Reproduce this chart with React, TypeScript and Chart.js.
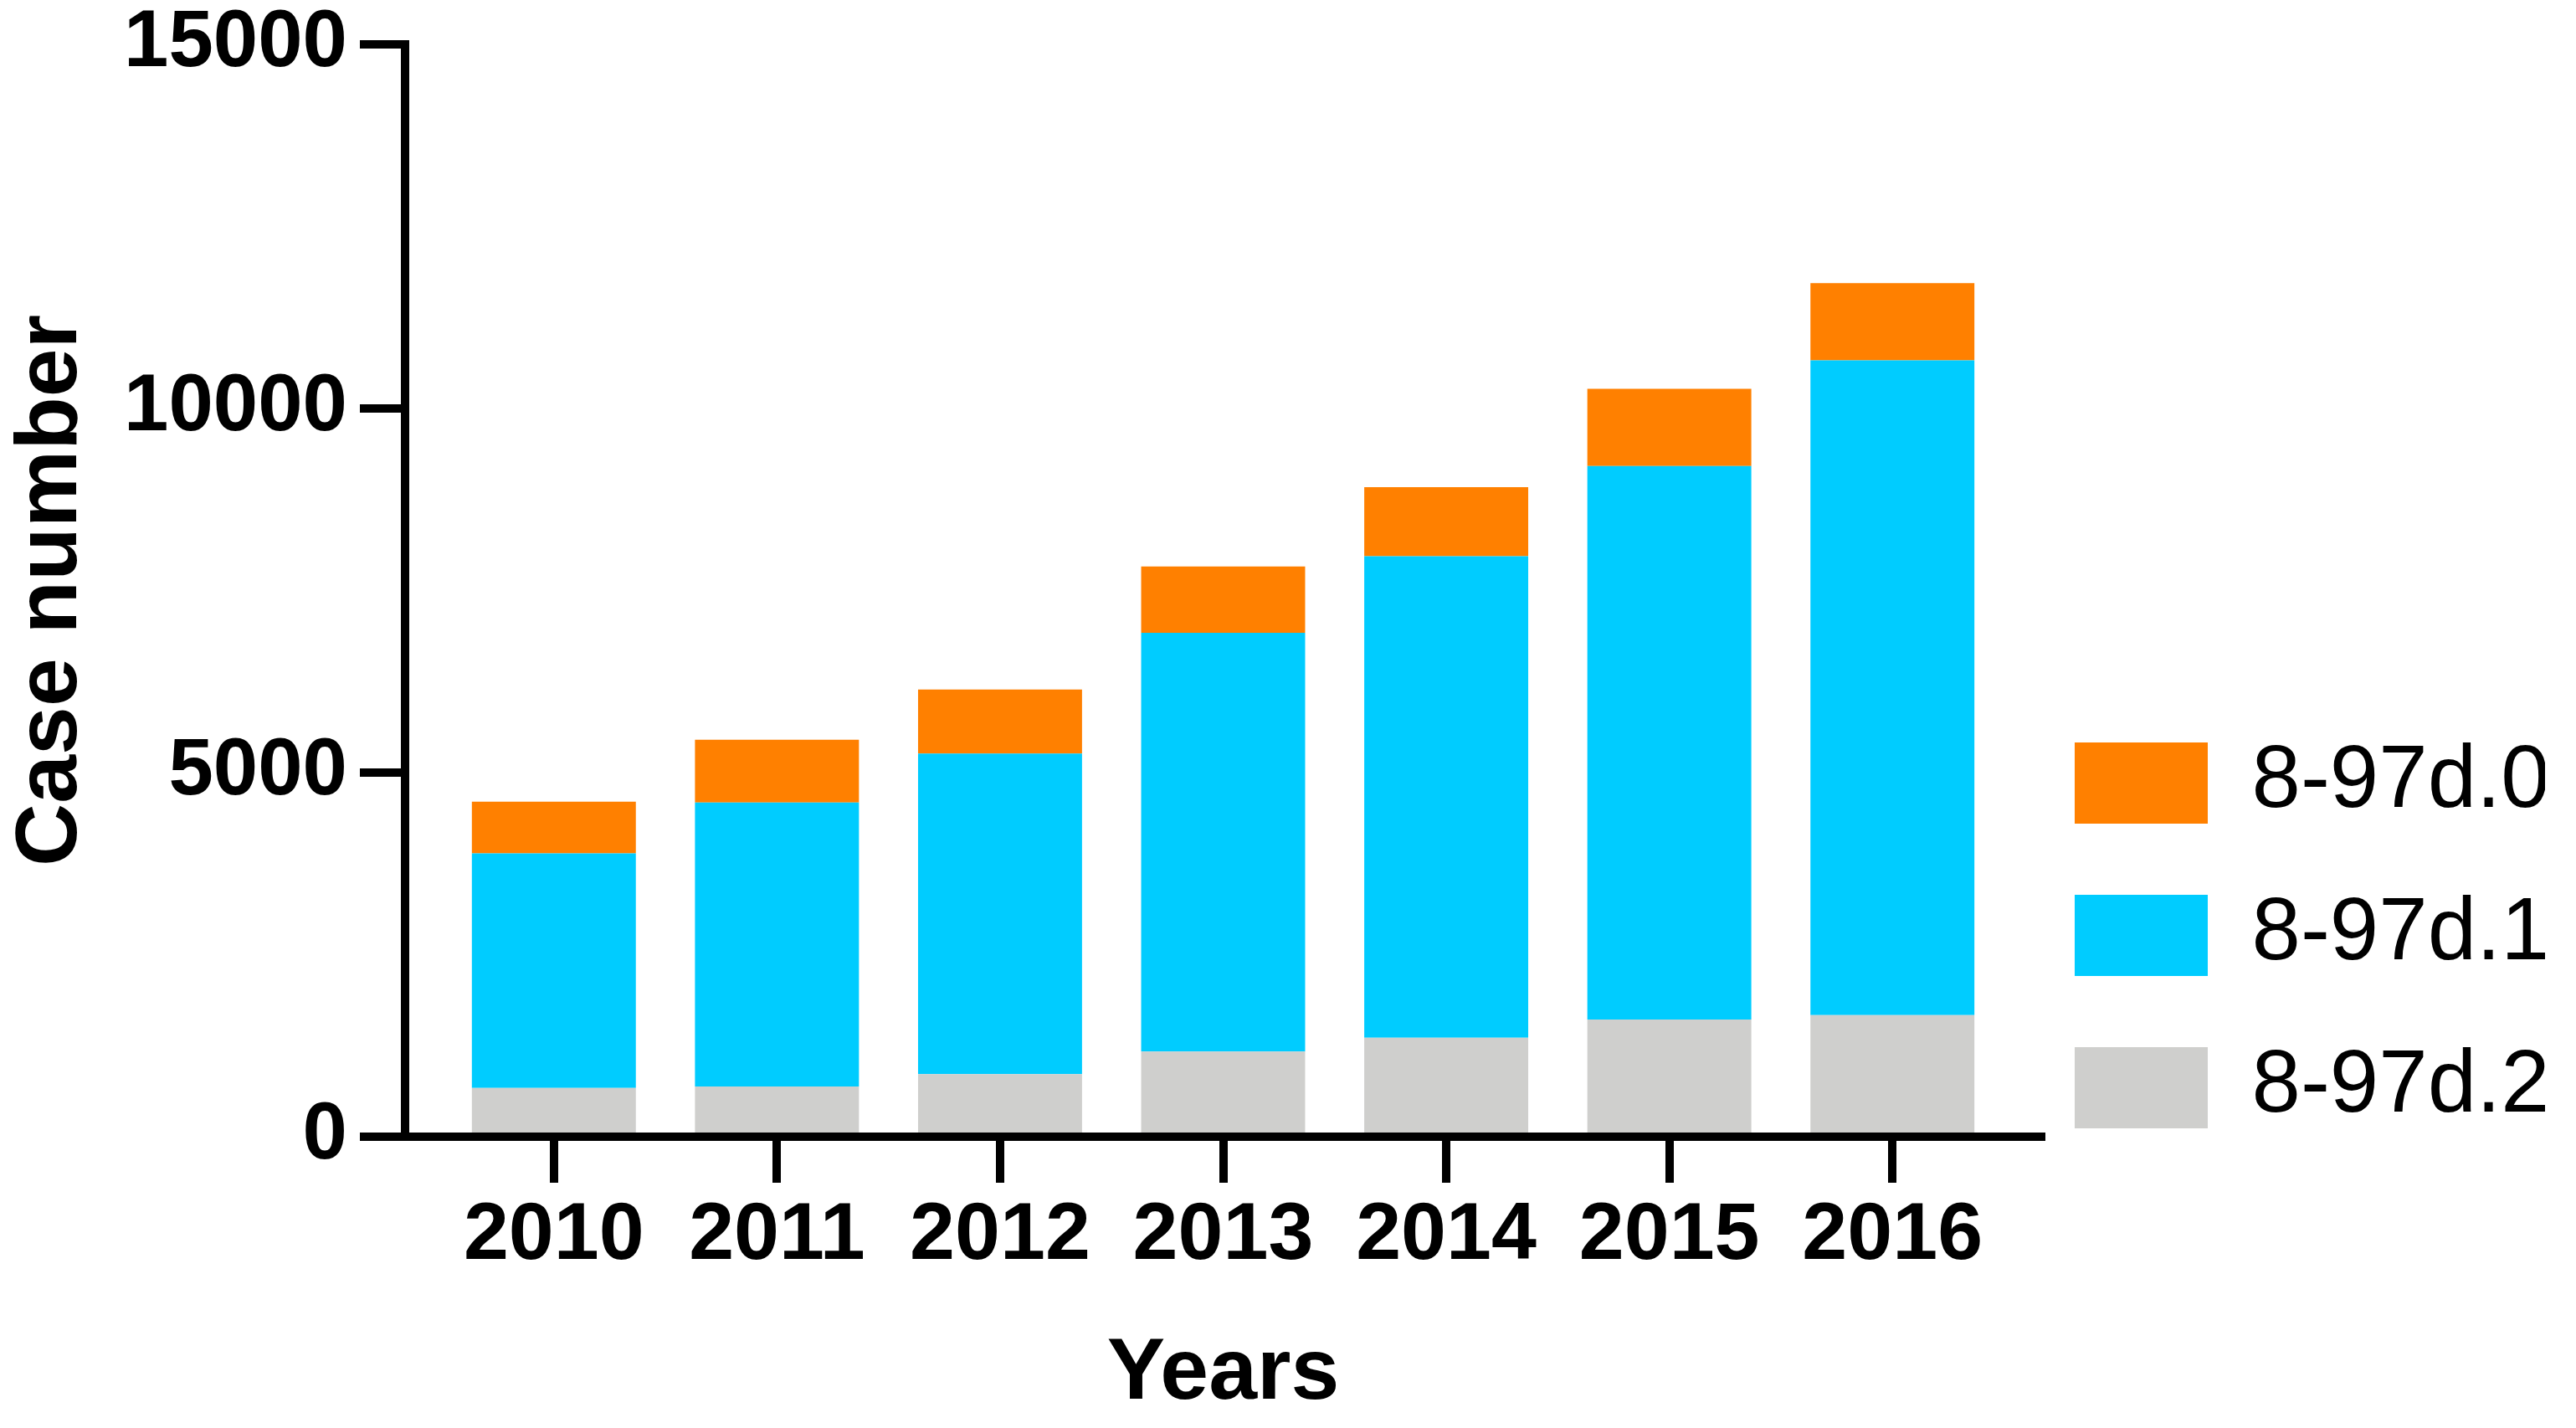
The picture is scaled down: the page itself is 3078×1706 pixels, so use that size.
import React, { useEffect, useRef } from 'react';
import { Chart, registerables } from 'chart.js';

Chart.register(...registerables);

// ---- data ----
const YEARS = [2010, 2011, 2012, 2013, 2014, 2015, 2016];
const SERIES_NAMES = ['8-97d.2', '8-97d.1', '8-97d.0'];
const SERIES_D2 = [670, 690, 860, 1170, 1360, 1610, 1670];
const SERIES_D1 = [3220, 3900, 4400, 5750, 6610, 7600, 8990];
const SERIES_D0 = [710, 860, 880, 910, 950, 1060, 1060];
const Y_TICKS = [0, 5000, 10000, 15000];
const X_TITLE = 'Years';
const Y_TITLE = 'Case number';

const COLORS = ['#CFCFCD', '#00CCFF', '#FF8000'];
const FONT = '"Liberation Sans", Arial, Helvetica, sans-serif';

const W = 3078;
const H = 1706;

const legendPlace = {
  id: 'legendPlace',
  afterLayout(chart: any) {
    const lg = chart.legend;
    if (!lg) return;
    const targetLeft = 2402;
    const targetTop = 806;
    const dx = targetLeft - lg.left;
    const dy = targetTop - lg.top;
    lg.left += dx;
    lg.right += dx;
    lg.top += dy;
    lg.bottom += dy;
  },
};

export default function App() {
  const ref = useRef<HTMLCanvasElement | null>(null);

  useEffect(() => {
    if (!ref.current) return;
    const series = [SERIES_D2, SERIES_D1, SERIES_D0];
    const chart = new Chart(ref.current, {
      type: 'bar',
      data: {
        datasets: series.map((vals, i) => ({
          label: SERIES_NAMES[i],
          data: YEARS.map((y, j) => ({ x: y, y: vals[j] })),
          backgroundColor: COLORS[i],
          borderWidth: 0,
          barPercentage: 0.735,
          categoryPercentage: 1,
        })),
      },
      options: {
        responsive: false,
        animation: false,
        devicePixelRatio: 1,
        layout: { padding: 0 },
        plugins: {
          tooltip: { enabled: false },
          legend: {
            display: true,
            position: 'right',
            align: 'start',
            reverse: true,
            maxWidth: W - 2439,
            labels: {
              boxWidth: 159,
              boxHeight: 97,
              padding: 77,
              color: '#000',
              font: { family: FONT, size: 105, weight: 'normal' },
            },
          },
        },
        scales: {
          x: {
            type: 'linear',
            stacked: true,
            offset: false,
            min: 2009.333,
            max: 2016.667,
            afterBuildTicks: (axis: any) => {
              axis.ticks = YEARS.map((v) => ({ value: v }));
            },
            afterFit: (scale: any) => {
              scale.height = H - 1358;
            },
            ticks: {
              color: '#000',
              padding: 6,
              maxRotation: 0,
              autoSkip: false,
              font: { family: FONT, size: 97, weight: 'bold' },
              callback: (v: any) => String(v),
            },
            grid: {
              display: true,
              offset: false,
              drawOnChartArea: false,
              drawTicks: true,
              tickLength: 55,
              tickWidth: 10,
              tickColor: '#000',
              color: '#000',
              lineWidth: 10,
            },
            border: { display: true, color: '#000', width: 10 },
            title: {
              display: true,
              text: X_TITLE,
              color: '#000',
              font: { family: FONT, size: 104, weight: 'bold' },
              padding: { top: 0, bottom: 1 },
            },
          },
          y: {
            type: 'linear',
            stacked: true,
            min: 0,
            max: 15000,
            afterBuildTicks: (axis: any) => {
              axis.ticks = Y_TICKS.map((v) => ({ value: v }));
            },
            afterFit: (scale: any) => {
              scale.width = 484;
            },
            ticks: {
              color: '#000',
              padding: 15,
              font: { family: FONT, size: 96, weight: 'bold', lineHeight: 0.79 },
              callback: (v: any) => String(v),
            },
            grid: {
              display: true,
              drawOnChartArea: false,
              drawTicks: true,
              tickLength: 54,
              tickWidth: 10,
              tickColor: '#000',
              color: '#000',
              lineWidth: 10,
            },
            border: { display: true, color: '#000', width: 10 },
            title: {
              display: true,
              text: Y_TITLE,
              color: '#000',
              font: { family: FONT, size: 104, weight: 'bold' },
              padding: { top: 0, bottom: 0 },
            },
          },
        },
      },
      plugins: [legendPlace],
    } as any);
    return () => chart.destroy();
  }, []);

  return (
    <div style={{ position: 'fixed', left: 0, top: 0, width: W, height: H, background: '#fff' }}>
      <canvas ref={ref} width={W} height={H} style={{ display: 'block', width: W, height: H }} />
    </div>
  );
}
